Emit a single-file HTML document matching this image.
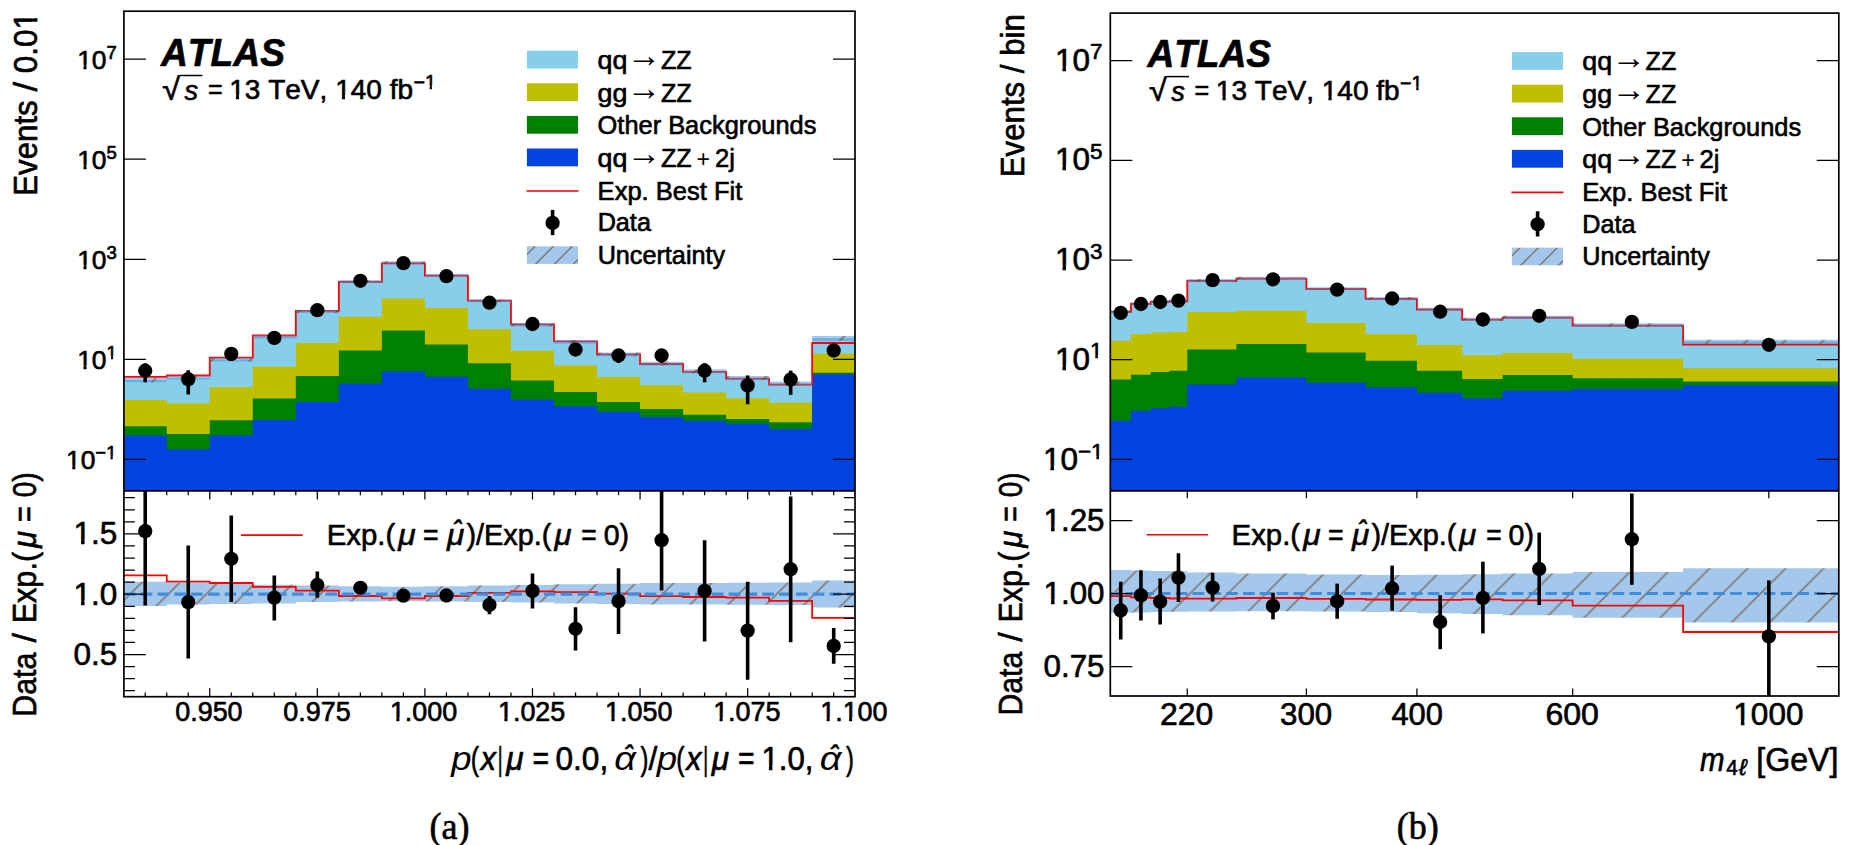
<!DOCTYPE html>
<html lang="en"><head><meta charset="utf-8"><title>ATLAS ZZ distributions</title>
<style>html,body{margin:0;padding:0;background:#fff}svg{display:block}text{font-family:"Liberation Sans", sans-serif;fill:#000;stroke:#000;stroke-width:0.65px;stroke-linejoin:round;font-kerning:none}</style>
</head><body>
<svg width="1850" height="845" viewBox="0 0 1850 845">
<rect width="1850" height="845" fill="#fff"/>
<clipPath id="c1" clipPathUnits="objectBoundingBox"><rect x="-0.5" y="0" width="2" height="0.675"/><rect x="0.43" y="0" width="0.203" height="1"/></clipPath>
<clipPath id="cmL"><rect x="123.9" y="11.2" width="731.1" height="479.7"/></clipPath>
<clipPath id="crL"><rect x="123.9" y="490.9" width="731.1" height="205.8"/></clipPath>
<pattern id="hL" patternUnits="userSpaceOnUse" x="1.7" y="0" width="38.03" height="38.03"><path d="M-1,39.03L39.03,-1M-39.03,39.03L1,-1M37.03,39.03L77.06,-1" stroke="#5b2d00" stroke-width="1.6" stroke-opacity="0.5" fill="none"/></pattern>
<g clip-path="url(#cmL)">
<polygon points="123.7,490.9 123.7,380.1 166.73,380.1 166.73,377.65 209.76,377.65 209.76,359.6 252.79,359.6 252.79,336.8 295.82,336.8 295.82,311.6 338.85,311.6 338.85,281.5 381.88,281.5 381.88,262.6 424.91,262.6 424.91,275.2 467.94,275.2 467.94,300.9 510.97,300.9 510.97,324.9 554,324.9 554,341.7 597.03,341.7 597.03,354.4 640.06,354.4 640.06,363.65 683.09,363.65 683.09,371.3 726.12,371.3 726.12,378 769.15,378 769.15,383.5 812.18,383.5 812.18,338.25 855.21,338.25 855.21,490.9" fill="#87CEEB"/>
<polygon points="123.7,490.9 123.7,400 166.73,400 166.73,403.6 209.76,403.6 209.76,387.3 252.79,387.3 252.79,366.8 295.82,366.8 295.82,342.9 338.85,342.9 338.85,316.7 381.88,316.7 381.88,298.6 424.91,298.6 424.91,307.9 467.94,307.9 467.94,329.3 510.97,329.3 510.97,350.8 554,350.8 554,365.6 597.03,365.6 597.03,377 640.06,377 640.06,385.2 683.09,385.2 683.09,392.4 726.12,392.4 726.12,398.2 769.15,398.2 769.15,402.7 812.18,402.7 812.18,353.8 855.21,353.8 855.21,490.9" fill="#BFBF00"/>
<polygon points="123.7,490.9 123.7,426.2 166.73,426.2 166.73,434.1 209.76,434.1 209.76,420.2 252.79,420.2 252.79,398.5 295.82,398.5 295.82,376.1 338.85,376.1 338.85,350.5 381.88,350.5 381.88,330.6 424.91,330.6 424.91,344.4 467.94,344.4 467.94,363.2 510.97,363.2 510.97,380.4 554,380.4 554,392.1 597.03,392.1 597.03,402.1 640.06,402.1 640.06,409 683.09,409 683.09,414.8 726.12,414.8 726.12,419 769.15,419 769.15,422.3 812.18,422.3 812.18,372.8 855.21,372.8 855.21,490.9" fill="#008000"/>
<polygon points="123.7,490.9 123.7,435.6 166.73,435.6 166.73,449.2 209.76,449.2 209.76,435.6 252.79,435.6 252.79,419.9 295.82,419.9 295.82,402.1 338.85,402.1 338.85,383.4 381.88,383.4 381.88,371.6 424.91,371.6 424.91,376.7 467.94,376.7 467.94,388.8 510.97,388.8 510.97,399.4 554,399.4 554,406.3 597.03,406.3 597.03,411.7 640.06,411.7 640.06,416.9 683.09,416.9 683.09,420.8 726.12,420.8 726.12,423.8 769.15,423.8 769.15,429 812.18,429 812.18,374.3 855.21,374.3 855.21,490.9" fill="#0343DF"/>
<polyline points="123.7,376.95 166.73,376.95 166.73,375.51 209.76,375.51 209.76,357.67 252.79,357.67 252.79,335.51 295.82,335.51 295.82,310.96 338.85,310.96 338.85,281.83 381.88,281.83 381.88,263.35 424.91,263.35 424.91,275.53 467.94,275.53 467.94,300.67 510.97,300.67 510.97,324.4 554,324.4 554,341.34 597.03,341.34 597.03,354.31 640.06,354.31 640.06,364.01 683.09,364.01 683.09,371.81 726.12,371.81 726.12,378.64 769.15,378.64 769.15,384.72 812.18,384.72 812.18,343 855.21,343" fill="none" stroke="#FF0000" stroke-width="1.8" stroke-linejoin="miter"/>
<path d="M123.7,377.96H166.73V382.32H123.7ZM166.73,375.72H209.76V379.61H166.73ZM209.76,357.8H252.79V361.46H209.76ZM252.79,335.17H295.82V338.52H252.79ZM295.82,310.09H338.85V313.07H295.82ZM338.85,280.12H381.88V282.88H338.85ZM381.88,261.31H424.91V263.92H381.88ZM424.91,273.82H467.94V276.58H424.91ZM467.94,299.39H510.97V302.37H467.94ZM510.97,323.3H554V326.47H510.97ZM554,339.99H597.03V343.42H554ZM597.03,352.6H640.06V356.22H597.03ZM640.06,361.72H683.09V365.61H640.06ZM683.09,369.37H726.12V373.26H683.09ZM726.12,376.04H769.15V380H726.12ZM769.15,381.47H812.18V385.56H769.15ZM812.18,335.91H855.21V340.79H812.18Z" fill="#4A90D9" fill-opacity="0.5"/>
<path d="M123.7,377.96H166.73V382.32H123.7ZM166.73,375.72H209.76V379.61H166.73ZM209.76,357.8H252.79V361.46H209.76ZM252.79,335.17H295.82V338.52H252.79ZM295.82,310.09H338.85V313.07H295.82ZM338.85,280.12H381.88V282.88H338.85ZM381.88,261.31H424.91V263.92H381.88ZM424.91,273.82H467.94V276.58H424.91ZM467.94,299.39H510.97V302.37H467.94ZM510.97,323.3H554V326.47H510.97ZM554,339.99H597.03V343.42H554ZM597.03,352.6H640.06V356.22H597.03ZM640.06,361.72H683.09V365.61H640.06ZM683.09,369.37H726.12V373.26H683.09ZM726.12,376.04H769.15V380H726.12ZM769.15,381.47H812.18V385.56H769.15ZM812.18,335.91H855.21V340.79H812.18Z" fill="url(#hL)"/>
<line x1="145.22" x2="145.22" y1="363.18" y2="382.31" stroke="#000" stroke-width="3.6"/>
<circle cx="145.22" cy="370.7" r="7.15" fill="#000"/>
<line x1="188.25" x2="188.25" y1="370.34" y2="394.4" stroke="#000" stroke-width="3.6"/>
<circle cx="188.25" cy="379.2" r="7.15" fill="#000"/>
<line x1="231.28" x2="231.28" y1="348.47" y2="361.01" stroke="#000" stroke-width="3.6"/>
<circle cx="231.28" cy="353.85" r="7.15" fill="#000"/>
<line x1="274.31" x2="274.31" y1="334.04" y2="342.6" stroke="#000" stroke-width="3.6"/>
<circle cx="274.31" cy="337.9" r="7.15" fill="#000"/>
<line x1="317.33" x2="317.33" y1="308.08" y2="312.56" stroke="#000" stroke-width="3.6"/>
<circle cx="317.33" cy="310.2" r="7.15" fill="#000"/>
<line x1="360.37" x2="360.37" y1="279.69" y2="281.97" stroke="#000" stroke-width="3.6"/>
<circle cx="360.37" cy="280.8" r="7.15" fill="#000"/>
<line x1="403.39" x2="403.39" y1="262.36" y2="263.87" stroke="#000" stroke-width="3.6"/>
<circle cx="403.39" cy="263.1" r="7.15" fill="#000"/>
<line x1="446.43" x2="446.43" y1="275.11" y2="277.14" stroke="#000" stroke-width="3.6"/>
<circle cx="446.43" cy="276.1" r="7.15" fill="#000"/>
<line x1="489.45" x2="489.45" y1="300.9" y2="304.66" stroke="#000" stroke-width="3.6"/>
<circle cx="489.45" cy="302.7" r="7.15" fill="#000"/>
<line x1="532.49" x2="532.49" y1="321.13" y2="327.31" stroke="#000" stroke-width="3.6"/>
<circle cx="532.49" cy="324" r="7.15" fill="#000"/>
<line x1="575.51" x2="575.51" y1="344.58" y2="355.87" stroke="#000" stroke-width="3.6"/>
<circle cx="575.51" cy="349.5" r="7.15" fill="#000"/>
<line x1="618.55" x2="618.55" y1="349.94" y2="362.99" stroke="#000" stroke-width="3.6"/>
<circle cx="618.55" cy="355.5" r="7.15" fill="#000"/>
<line x1="661.58" x2="661.58" y1="349.94" y2="362.99" stroke="#000" stroke-width="3.6"/>
<circle cx="661.58" cy="355.5" r="7.15" fill="#000"/>
<line x1="704.61" x2="704.61" y1="363.18" y2="382.31" stroke="#000" stroke-width="3.6"/>
<circle cx="704.61" cy="370.7" r="7.15" fill="#000"/>
<line x1="747.64" x2="747.64" y1="375.46" y2="404.28" stroke="#000" stroke-width="3.6"/>
<circle cx="747.64" cy="385.4" r="7.15" fill="#000"/>
<line x1="790.67" x2="790.67" y1="370.59" y2="394.86" stroke="#000" stroke-width="3.6"/>
<circle cx="790.67" cy="379.5" r="7.15" fill="#000"/>
<line x1="833.7" x2="833.7" y1="345.48" y2="357.04" stroke="#000" stroke-width="3.6"/>
<circle cx="833.7" cy="350.5" r="7.15" fill="#000"/>
</g>
<g clip-path="url(#crL)">
<path d="M123.7,581.7H166.73V605.9H123.7ZM166.73,583H209.76V604.6H166.73ZM209.76,583.8H252.79V604.1H209.76ZM252.79,584.8H295.82V603.4H252.79ZM295.82,585.5H338.85V602.1H295.82ZM338.85,586.3H381.88V601.6H338.85ZM381.88,586.8H424.91V601.3H381.88ZM424.91,586.3H467.94V601.6H424.91ZM467.94,585.5H510.97V602.1H467.94ZM510.97,585H554V602.6H510.97ZM554,584.3H597.03V603.4H554ZM597.03,583.8H640.06V603.9H597.03ZM640.06,583H683.09V604.6H640.06ZM683.09,583H726.12V604.6H683.09ZM726.12,582.8H769.15V604.8H726.12ZM769.15,582.4H812.18V605.1H769.15ZM812.18,580.5H855.21V607.5H812.18Z" fill="#4A90D9" fill-opacity="0.5"/>
<path d="M123.7,581.7H166.73V605.9H123.7ZM166.73,583H209.76V604.6H166.73ZM209.76,583.8H252.79V604.1H209.76ZM252.79,584.8H295.82V603.4H252.79ZM295.82,585.5H338.85V602.1H295.82ZM338.85,586.3H381.88V601.6H338.85ZM381.88,586.8H424.91V601.3H381.88ZM424.91,586.3H467.94V601.6H424.91ZM467.94,585.5H510.97V602.1H467.94ZM510.97,585H554V602.6H510.97ZM554,584.3H597.03V603.4H554ZM597.03,583.8H640.06V603.9H597.03ZM640.06,583H683.09V604.6H640.06ZM683.09,583H726.12V604.6H683.09ZM726.12,582.8H769.15V604.8H726.12ZM769.15,582.4H812.18V605.1H769.15ZM812.18,580.5H855.21V607.5H812.18Z" fill="url(#hL)"/>
<polyline points="123.7,575.4 166.73,575.4 166.73,581.7 209.76,581.7 209.76,583 252.79,583 252.79,586.8 295.82,586.8 295.82,590.6 338.85,590.6 338.85,596 381.88,596 381.88,598.3 424.91,598.3 424.91,596 467.94,596 467.94,592.9 510.97,592.9 510.97,591.4 554,591.4 554,592.2 597.03,592.2 597.03,593.7 640.06,593.7 640.06,596.2 683.09,596.2 683.09,597 726.12,597 726.12,597.7 769.15,597.7 769.15,600.8 812.18,600.8 812.18,617.9 855.21,617.9" fill="none" stroke="#FF0000" stroke-width="1.8"/>
<line x1="123.9" x2="855" y1="594.1" y2="594.1" stroke="#3E8EDE" stroke-width="3.1" stroke-dasharray="11.6 5.2" stroke-dashoffset="0"/>
<line x1="145.22" x2="145.22" y1="480" y2="605.4" stroke="#000" stroke-width="3.6"/>
<circle cx="145.22" cy="531.1" r="7.15" fill="#000"/>
<line x1="188.25" x2="188.25" y1="545.6" y2="658.6" stroke="#000" stroke-width="3.6"/>
<circle cx="188.25" cy="602.1" r="7.15" fill="#000"/>
<line x1="231.28" x2="231.28" y1="515.5" y2="602.1" stroke="#000" stroke-width="3.6"/>
<circle cx="231.28" cy="558.8" r="7.15" fill="#000"/>
<line x1="274.31" x2="274.31" y1="575.4" y2="620.4" stroke="#000" stroke-width="3.6"/>
<circle cx="274.31" cy="597.7" r="7.15" fill="#000"/>
<line x1="317.33" x2="317.33" y1="571.5" y2="597.7" stroke="#000" stroke-width="3.6"/>
<circle cx="317.33" cy="585" r="7.15" fill="#000"/>
<line x1="360.37" x2="360.37" y1="581.5" y2="594" stroke="#000" stroke-width="3.6"/>
<circle cx="360.37" cy="587.8" r="7.15" fill="#000"/>
<circle cx="403.39" cy="595.7" r="7.15" fill="#000"/>
<circle cx="446.43" cy="595.5" r="7.15" fill="#000"/>
<line x1="489.45" x2="489.45" y1="596" y2="614.3" stroke="#000" stroke-width="3.6"/>
<circle cx="489.45" cy="604.9" r="7.15" fill="#000"/>
<line x1="532.49" x2="532.49" y1="573.6" y2="608.4" stroke="#000" stroke-width="3.6"/>
<circle cx="532.49" cy="590.9" r="7.15" fill="#000"/>
<line x1="575.51" x2="575.51" y1="607.2" y2="650.4" stroke="#000" stroke-width="3.6"/>
<circle cx="575.51" cy="628.8" r="7.15" fill="#000"/>
<line x1="618.55" x2="618.55" y1="568.2" y2="633.9" stroke="#000" stroke-width="3.6"/>
<circle cx="618.55" cy="601.1" r="7.15" fill="#000"/>
<line x1="661.58" x2="661.58" y1="480" y2="590.6" stroke="#000" stroke-width="3.6"/>
<circle cx="661.58" cy="540.2" r="7.15" fill="#000"/>
<line x1="704.61" x2="704.61" y1="540.2" y2="641.5" stroke="#000" stroke-width="3.6"/>
<circle cx="704.61" cy="590.9" r="7.15" fill="#000"/>
<line x1="747.64" x2="747.64" y1="581.7" y2="679.7" stroke="#000" stroke-width="3.6"/>
<circle cx="747.64" cy="630.6" r="7.15" fill="#000"/>
<line x1="790.67" x2="790.67" y1="496.5" y2="642.3" stroke="#000" stroke-width="3.6"/>
<circle cx="790.67" cy="569.2" r="7.15" fill="#000"/>
<line x1="833.7" x2="833.7" y1="628" y2="663.7" stroke="#000" stroke-width="3.6"/>
<circle cx="833.7" cy="645.9" r="7.15" fill="#000"/>
</g>
<path d="M123.9,59.2h22 M855,59.2h-22 M123.9,159.2h22 M855,159.2h-22 M123.9,259.3h22 M855,259.3h-22 M123.9,359.3h22 M855,359.3h-22 M123.9,459.4h22 M855,459.4h-22 M123.9,533.9h22 M855,533.9h-22 M123.9,594.2h22 M855,594.2h-22 M123.9,654.5h22 M855,654.5h-22 M123.9,690.68h11 M855,690.68h-11 M123.9,678.62h11 M855,678.62h-11 M123.9,666.56h11 M855,666.56h-11 M123.9,642.44h11 M855,642.44h-11 M123.9,630.38h11 M855,630.38h-11 M123.9,618.32h11 M855,618.32h-11 M123.9,606.26h11 M855,606.26h-11 M123.9,582.14h11 M855,582.14h-11 M123.9,570.08h11 M855,570.08h-11 M123.9,558.02h11 M855,558.02h-11 M123.9,545.96h11 M855,545.96h-11 M123.9,521.84h11 M855,521.84h-11 M123.9,509.78h11 M855,509.78h-11 M123.9,497.72h11 M855,497.72h-11 M209.76,696.7v-8.5 M209.76,490.9v8.5 M317.33,696.7v-8.5 M317.33,490.9v8.5 M424.91,696.7v-8.5 M424.91,490.9v8.5 M532.48,696.7v-8.5 M532.48,490.9v8.5 M640.06,696.7v-8.5 M640.06,490.9v8.5 M747.63,696.7v-8.5 M747.63,490.9v8.5 M145.22,696.7v-4.25 M145.22,490.9v4.25 M166.73,696.7v-4.25 M166.73,490.9v4.25 M188.25,696.7v-4.25 M188.25,490.9v4.25 M231.28,696.7v-4.25 M231.28,490.9v4.25 M252.79,696.7v-4.25 M252.79,490.9v4.25 M274.31,696.7v-4.25 M274.31,490.9v4.25 M295.82,696.7v-4.25 M295.82,490.9v4.25 M338.85,696.7v-4.25 M338.85,490.9v4.25 M360.37,696.7v-4.25 M360.37,490.9v4.25 M381.88,696.7v-4.25 M381.88,490.9v4.25 M403.4,696.7v-4.25 M403.4,490.9v4.25 M446.43,696.7v-4.25 M446.43,490.9v4.25 M467.94,696.7v-4.25 M467.94,490.9v4.25 M489.46,696.7v-4.25 M489.46,490.9v4.25 M510.97,696.7v-4.25 M510.97,490.9v4.25 M554,696.7v-4.25 M554,490.9v4.25 M575.52,696.7v-4.25 M575.52,490.9v4.25 M597.03,696.7v-4.25 M597.03,490.9v4.25 M618.55,696.7v-4.25 M618.55,490.9v4.25 M661.58,696.7v-4.25 M661.58,490.9v4.25 M683.09,696.7v-4.25 M683.09,490.9v4.25 M704.6,696.7v-4.25 M704.6,490.9v4.25 M726.12,696.7v-4.25 M726.12,490.9v4.25 M769.15,696.7v-4.25 M769.15,490.9v4.25 M790.66,696.7v-4.25 M790.66,490.9v4.25 M812.18,696.7v-4.25 M812.18,490.9v4.25 M833.69,696.7v-4.25 M833.69,490.9v4.25" stroke="#000" stroke-width="1.25" fill="none"/>
<rect x="123.9" y="11.2" width="731.1" height="685.5" fill="none" stroke="#000" stroke-width="1.7"/>
<line x1="123.9" x2="855" y1="490.9" y2="490.9" stroke="#000" stroke-width="1.7"/>
<clipPath id="cmR"><rect x="1110.3" y="13.1" width="728.5" height="477.7"/></clipPath>
<clipPath id="crR"><rect x="1110.3" y="490.8" width="728.5" height="205.2"/></clipPath>
<pattern id="hR" patternUnits="userSpaceOnUse" x="33.6" y="0" width="38.04" height="38.04"><path d="M-1,39.04L39.04,-1M-39.04,39.04L1,-1M37.04,39.04L77.08,-1" stroke="#5b2d00" stroke-width="1.6" stroke-opacity="0.5" fill="none"/></pattern>
<g clip-path="url(#cmR)">
<polygon points="1110.2,490.8 1110.2,311.6 1130.97,311.6 1130.97,303.7 1150.67,303.7 1150.67,301.65 1169.41,301.65 1169.41,300.85 1187.28,300.85 1187.28,280.55 1236.38,280.55 1236.38,278.25 1306.4,278.25 1306.4,288.6 1365.61,288.6 1365.61,298.35 1416.9,298.35 1416.9,309 1462.14,309 1462.14,319.2 1502.61,319.2 1502.61,317.1 1572.63,317.1 1572.63,324.8 1683.13,324.8 1683.13,341.5 1838.86,341.5 1838.86,490.8" fill="#87CEEB"/>
<polygon points="1110.2,490.8 1110.2,340.8 1130.97,340.8 1130.97,334 1150.67,334 1150.67,332.6 1169.41,332.6 1169.41,332.1 1187.28,332.1 1187.28,312 1236.38,312 1236.38,310.8 1306.4,310.8 1306.4,323.1 1365.61,323.1 1365.61,334 1416.9,334 1416.9,345.1 1462.14,345.1 1462.14,355.3 1502.61,355.3 1502.61,353.1 1572.63,353.1 1572.63,358.8 1683.13,358.8 1683.13,368.3 1838.86,368.3 1838.86,490.8" fill="#BFBF00"/>
<polygon points="1110.2,490.8 1110.2,379.6 1130.97,379.6 1130.97,374.7 1150.67,374.7 1150.67,372.1 1169.41,372.1 1169.41,370.7 1187.28,370.7 1187.28,349.4 1236.38,349.4 1236.38,343.9 1306.4,343.9 1306.4,352.4 1365.61,352.4 1365.61,360.7 1416.9,360.7 1416.9,370.7 1462.14,370.7 1462.14,378.9 1502.61,378.9 1502.61,374.9 1572.63,374.9 1572.63,378.2 1683.13,378.2 1683.13,381.6 1838.86,381.6 1838.86,490.8" fill="#008000"/>
<polygon points="1110.2,490.8 1110.2,420.8 1130.97,420.8 1130.97,410.9 1150.67,410.9 1150.67,408 1169.41,408 1169.41,406.8 1187.28,406.8 1187.28,384.4 1236.38,384.4 1236.38,377.5 1306.4,377.5 1306.4,382.7 1365.61,382.7 1365.61,387.4 1416.9,387.4 1416.9,392.7 1462.14,392.7 1462.14,398.3 1502.61,398.3 1502.61,390.8 1572.63,390.8 1572.63,388.9 1683.13,388.9 1683.13,385.2 1838.86,385.2 1838.86,490.8" fill="#0343DF"/>
<polyline points="1110.2,311.8 1130.97,311.8 1130.97,303.99 1150.67,303.99 1150.67,301.99 1169.41,301.99 1169.41,301.23 1187.28,301.23 1187.28,280.94 1236.38,280.94 1236.38,278.59 1306.4,278.59 1306.4,289 1365.61,289 1365.61,298.8 1416.9,298.8 1416.9,309.48 1462.14,309.48 1462.14,319.64 1502.61,319.64 1502.61,317.62 1572.63,317.62 1572.63,325.72 1683.13,325.72 1683.13,344.57 1838.86,344.57" fill="none" stroke="#FF0000" stroke-width="1.8" stroke-linejoin="miter"/>
<path d="M1110.2,309.93H1130.97V313.08H1110.2ZM1130.97,302.06H1150.67V305.16H1130.97ZM1150.67,300.04H1169.41V303.08H1150.67ZM1169.41,299.26H1187.28V302.26H1169.41ZM1187.28,279.05H1236.38V281.93H1187.28ZM1236.38,276.83H1306.4V279.61H1236.38ZM1306.4,287.24H1365.61V289.97H1306.4ZM1365.61,297.02H1416.9V299.78H1365.61ZM1416.9,307.65H1462.14V310.52H1416.9ZM1462.14,317.82H1502.61V320.77H1462.14ZM1502.61,315.66H1572.63V318.78H1502.61ZM1572.63,323.26H1683.13V326.68H1572.63ZM1683.13,339.7H1838.86V343.78H1683.13Z" fill="#4A90D9" fill-opacity="0.5"/>
<path d="M1110.2,309.93H1130.97V313.08H1110.2ZM1130.97,302.06H1150.67V305.16H1130.97ZM1150.67,300.04H1169.41V303.08H1150.67ZM1169.41,299.26H1187.28V302.26H1169.41ZM1187.28,279.05H1236.38V281.93H1187.28ZM1236.38,276.83H1306.4V279.61H1236.38ZM1306.4,287.24H1365.61V289.97H1306.4ZM1365.61,297.02H1416.9V299.78H1365.61ZM1416.9,307.65H1462.14V310.52H1416.9ZM1462.14,317.82H1502.61V320.77H1462.14ZM1502.61,315.66H1572.63V318.78H1502.61ZM1572.63,323.26H1683.13V326.68H1572.63ZM1683.13,339.7H1838.86V343.78H1683.13Z" fill="url(#hR)"/>
<line x1="1120.72" x2="1120.72" y1="310.69" y2="315.36" stroke="#000" stroke-width="3.6"/>
<circle cx="1120.72" cy="312.9" r="7.15" fill="#000"/>
<line x1="1140.94" x2="1140.94" y1="302.19" y2="305.98" stroke="#000" stroke-width="3.6"/>
<circle cx="1140.94" cy="304" r="7.15" fill="#000"/>
<line x1="1160.15" x2="1160.15" y1="300.27" y2="303.89" stroke="#000" stroke-width="3.6"/>
<circle cx="1160.15" cy="302" r="7.15" fill="#000"/>
<line x1="1178.45" x2="1178.45" y1="298.92" y2="302.42" stroke="#000" stroke-width="3.6"/>
<circle cx="1178.45" cy="300.6" r="7.15" fill="#000"/>
<line x1="1212.61" x2="1212.61" y1="279.04" y2="281.22" stroke="#000" stroke-width="3.6"/>
<circle cx="1212.61" cy="280.1" r="7.15" fill="#000"/>
<line x1="1272.98" x2="1272.98" y1="278.26" y2="280.4" stroke="#000" stroke-width="3.6"/>
<circle cx="1272.98" cy="279.3" r="7.15" fill="#000"/>
<line x1="1337.15" x2="1337.15" y1="288.28" y2="291" stroke="#000" stroke-width="3.6"/>
<circle cx="1337.15" cy="289.6" r="7.15" fill="#000"/>
<line x1="1392.11" x2="1392.11" y1="296.9" y2="300.23" stroke="#000" stroke-width="3.6"/>
<circle cx="1392.11" cy="298.5" r="7.15" fill="#000"/>
<line x1="1440.18" x2="1440.18" y1="309.55" y2="314.09" stroke="#000" stroke-width="3.6"/>
<circle cx="1440.18" cy="311.7" r="7.15" fill="#000"/>
<line x1="1482.9" x2="1482.9" y1="316.95" y2="322.39" stroke="#000" stroke-width="3.6"/>
<circle cx="1482.9" cy="319.5" r="7.15" fill="#000"/>
<line x1="1539.21" x2="1539.21" y1="313.45" y2="318.44" stroke="#000" stroke-width="3.6"/>
<circle cx="1539.21" cy="315.8" r="7.15" fill="#000"/>
<line x1="1631.84" x2="1631.84" y1="319.22" y2="324.97" stroke="#000" stroke-width="3.6"/>
<circle cx="1631.84" cy="321.9" r="7.15" fill="#000"/>
<line x1="1768.84" x2="1768.84" y1="340.42" y2="350.29" stroke="#000" stroke-width="3.6"/>
<circle cx="1768.84" cy="344.8" r="7.15" fill="#000"/>
</g>
<g clip-path="url(#crR)">
<path d="M1110.2,570.1H1130.97V612.8H1110.2ZM1130.97,570.5H1150.67V612.5H1130.97ZM1150.67,570.9H1169.41V612.1H1150.67ZM1169.41,571.2H1187.28V611.8H1169.41ZM1187.28,572.5H1236.38V611.5H1187.28ZM1236.38,573.6H1306.4V611.2H1236.38ZM1306.4,574.5H1365.61V611.4H1306.4ZM1365.61,575H1416.9V612.1H1365.61ZM1416.9,574.7H1462.14V613.2H1416.9ZM1462.14,574.2H1502.61V613.9H1462.14ZM1502.61,573.4H1572.63V615.3H1502.61ZM1572.63,572H1683.13V617.7H1572.63ZM1683.13,568.2H1838.86V622.6H1683.13Z" fill="#4A90D9" fill-opacity="0.5"/>
<path d="M1110.2,570.1H1130.97V612.8H1110.2ZM1130.97,570.5H1150.67V612.5H1130.97ZM1150.67,570.9H1169.41V612.1H1150.67ZM1169.41,571.2H1187.28V611.8H1169.41ZM1187.28,572.5H1236.38V611.5H1187.28ZM1236.38,573.6H1306.4V611.2H1236.38ZM1306.4,574.5H1365.61V611.4H1306.4ZM1365.61,575H1416.9V612.1H1365.61ZM1416.9,574.7H1462.14V613.2H1416.9ZM1462.14,574.2H1502.61V613.9H1462.14ZM1502.61,573.4H1572.63V615.3H1502.61ZM1572.63,572H1683.13V617.7H1572.63ZM1683.13,568.2H1838.86V622.6H1683.13Z" fill="url(#hR)"/>
<polyline points="1110.2,596.1 1130.97,596.1 1130.97,597.4 1150.67,597.4 1150.67,598 1169.41,598 1169.41,598.5 1187.28,598.5 1187.28,598.6 1236.38,598.6 1236.38,598 1306.4,598 1306.4,598.8 1365.61,598.8 1365.61,599.5 1416.9,599.5 1416.9,599.9 1462.14,599.9 1462.14,599.3 1502.61,599.3 1502.61,600.4 1572.63,600.4 1572.63,605.6 1683.13,605.6 1683.13,632 1838.86,632" fill="none" stroke="#FF0000" stroke-width="1.8"/>
<line x1="1110.3" x2="1838.8" y1="593.45" y2="593.45" stroke="#3E8EDE" stroke-width="3.1" stroke-dasharray="11.6 5.2" stroke-dashoffset="1.7"/>
<line x1="1120.72" x2="1120.72" y1="581.7" y2="639.5" stroke="#000" stroke-width="3.6"/>
<circle cx="1120.72" cy="610.5" r="7.15" fill="#000"/>
<line x1="1140.94" x2="1140.94" y1="570.3" y2="620.4" stroke="#000" stroke-width="3.6"/>
<circle cx="1140.94" cy="595.2" r="7.15" fill="#000"/>
<line x1="1160.15" x2="1160.15" y1="578.4" y2="624.5" stroke="#000" stroke-width="3.6"/>
<circle cx="1160.15" cy="601.6" r="7.15" fill="#000"/>
<line x1="1178.45" x2="1178.45" y1="553.2" y2="602.1" stroke="#000" stroke-width="3.6"/>
<circle cx="1178.45" cy="577.6" r="7.15" fill="#000"/>
<line x1="1212.61" x2="1212.61" y1="572.8" y2="601.6" stroke="#000" stroke-width="3.6"/>
<circle cx="1212.61" cy="587.6" r="7.15" fill="#000"/>
<line x1="1272.98" x2="1272.98" y1="592.7" y2="619.4" stroke="#000" stroke-width="3.6"/>
<circle cx="1272.98" cy="605.9" r="7.15" fill="#000"/>
<line x1="1337.15" x2="1337.15" y1="583.6" y2="618.8" stroke="#000" stroke-width="3.6"/>
<circle cx="1337.15" cy="601.3" r="7.15" fill="#000"/>
<line x1="1392.11" x2="1392.11" y1="565.6" y2="610.7" stroke="#000" stroke-width="3.6"/>
<circle cx="1392.11" cy="588.5" r="7.15" fill="#000"/>
<line x1="1440.18" x2="1440.18" y1="595.2" y2="649.2" stroke="#000" stroke-width="3.6"/>
<circle cx="1440.18" cy="622" r="7.15" fill="#000"/>
<line x1="1482.9" x2="1482.9" y1="561.7" y2="633.4" stroke="#000" stroke-width="3.6"/>
<circle cx="1482.9" cy="598" r="7.15" fill="#000"/>
<line x1="1539.21" x2="1539.21" y1="532.6" y2="605" stroke="#000" stroke-width="3.6"/>
<circle cx="1539.21" cy="569" r="7.15" fill="#000"/>
<line x1="1631.84" x2="1631.84" y1="493.4" y2="584.8" stroke="#000" stroke-width="3.6"/>
<circle cx="1631.84" cy="539.2" r="7.15" fill="#000"/>
<line x1="1768.84" x2="1768.84" y1="580.4" y2="710" stroke="#000" stroke-width="3.6"/>
<circle cx="1768.84" cy="636.4" r="7.15" fill="#000"/>
</g>
<path d="M1110.3,60.65h22 M1838.8,60.65h-22 M1110.3,160.4h22 M1838.8,160.4h-22 M1110.3,260.2h22 M1838.8,260.2h-22 M1110.3,359.6h22 M1838.8,359.6h-22 M1110.3,459.4h22 M1838.8,459.4h-22 M1110.3,520.5h22 M1838.8,520.5h-22 M1110.3,593.6h22 M1838.8,593.6h-22 M1110.3,666.7h22 M1838.8,666.7h-22 M1187.28,696v-7.5 M1187.28,490.8v7.5 M1306.4,696v-7.5 M1306.4,490.8v7.5 M1416.9,696v-7.5 M1416.9,490.8v7.5 M1572.63,696v-7.5 M1572.63,490.8v7.5 M1768.84,696v-7.5 M1768.84,490.8v7.5" stroke="#000" stroke-width="1.25" fill="none"/>
<rect x="1110.3" y="13.1" width="728.5" height="682.9" fill="none" stroke="#000" stroke-width="1.7"/>
<line x1="1110.3" x2="1838.8" y1="490.8" y2="490.8" stroke="#000" stroke-width="1.7"/>
<rect x="526.9" y="50.7" width="51.1" height="17.8" fill="#87CEEB"/>
<rect x="526.9" y="83.3" width="51.1" height="17.8" fill="#BFBF00"/>
<rect x="526.9" y="115.9" width="51.1" height="17.8" fill="#008000"/>
<rect x="526.9" y="148.5" width="51.1" height="17.8" fill="#0343DF"/>
<line x1="526.4" x2="578.5" y1="191" y2="191" stroke="#FF0000" stroke-width="1.6"/>
<line x1="552.6" x2="552.6" y1="209.9" y2="235.1" stroke="#000" stroke-width="3.6"/>
<circle cx="552.6" cy="222.9" r="7.15" fill="#000"/>
<clipPath id="lg526"><rect x="526.9" y="246.3" width="51.1" height="17.6"/></clipPath>
<rect x="526.9" y="246.3" width="51.1" height="17.6" fill="#4A90D9" fill-opacity="0.5"/>
<g clip-path="url(#lg526)"><path d="M515.1,266.2l22,-22 M533.5,266.2l22,-22 M552.4,266.2l22,-22 M571.3,266.2l22,-22" stroke="#5b2d00" stroke-width="1.5" stroke-opacity="0.5"/></g>
<rect x="1511.9" y="52.1" width="51.1" height="17.8" fill="#87CEEB"/>
<rect x="1511.9" y="84.7" width="51.1" height="17.8" fill="#BFBF00"/>
<rect x="1511.9" y="117.3" width="51.1" height="17.8" fill="#008000"/>
<rect x="1511.9" y="149.9" width="51.1" height="17.8" fill="#0343DF"/>
<line x1="1511.4" x2="1563.5" y1="192.4" y2="192.4" stroke="#FF0000" stroke-width="1.6"/>
<line x1="1537.6" x2="1537.6" y1="211.3" y2="236.5" stroke="#000" stroke-width="3.6"/>
<circle cx="1537.6" cy="224.3" r="7.15" fill="#000"/>
<clipPath id="lg1511"><rect x="1511.9" y="247.7" width="51.1" height="17.6"/></clipPath>
<rect x="1511.9" y="247.7" width="51.1" height="17.6" fill="#4A90D9" fill-opacity="0.5"/>
<g clip-path="url(#lg1511)"><path d="M1500.1,267.6l22,-22 M1518.5,267.6l22,-22 M1537.4,267.6l22,-22 M1556.3,267.6l22,-22" stroke="#5b2d00" stroke-width="1.5" stroke-opacity="0.5"/></g>
<line x1="240.9" x2="302.7" y1="535.1" y2="535.1" stroke="#FF0000" stroke-width="1.6"/>
<line x1="1146.5" x2="1208.1" y1="534.8" y2="534.8" stroke="#FF0000" stroke-width="1.6"/>
<line x1="180.0" x2="202.4" y1="75.5" y2="75.5" stroke="#000" stroke-width="1.5"/>
<line x1="1166.6" x2="1189" y1="76.6" y2="76.6" stroke="#000" stroke-width="1.5"/>
<g transform="translate(77.20 68.60) scale(1.0000 1.0000)"><text x="0.00" y="0.00" font-size="26.4" clip-path="url(#c1)">1</text><text x="14.68" y="0.00" font-size="26.4">0</text><text x="29.36" y="-10.00" font-size="18.5">7</text></g>
<g transform="translate(77.20 168.60) scale(1.0000 1.0000)"><text x="0.00" y="0.00" font-size="26.4" clip-path="url(#c1)">1</text><text x="14.68" y="0.00" font-size="26.4">0</text><text x="29.36" y="-10.00" font-size="18.5">5</text></g>
<g transform="translate(77.20 268.70) scale(1.0000 1.0000)"><text x="0.00" y="0.00" font-size="26.4" clip-path="url(#c1)">1</text><text x="14.68" y="0.00" font-size="26.4">0</text><text x="29.36" y="-10.00" font-size="18.5">3</text></g>
<g transform="translate(77.20 368.70) scale(1.0000 1.0000)"><text x="0.00" y="0.00" font-size="26.4" clip-path="url(#c1)">1</text><text x="14.68" y="0.00" font-size="26.4">0</text><text x="29.36" y="-10.00" font-size="18.5" clip-path="url(#c1)">1</text></g>
<g transform="translate(66.00 469.00) scale(1.0000 1.0000)"><text x="0.00" y="0.00" font-size="26.4" clip-path="url(#c1)">1</text><text x="14.68" y="0.00" font-size="26.4">0</text><text x="29.36" y="-10.00" font-size="18.5">−</text><text x="40.17" y="-10.00" font-size="18.5" clip-path="url(#c1)">1</text></g>
<g transform="translate(73.46 544.20) scale(0.9850 1.0000)"><text x="0.00" y="0.00" font-size="32.0" clip-path="url(#c1)">1</text><text x="17.80" y="0.00" font-size="32.0">.5</text></g>
<g transform="translate(73.46 604.50) scale(0.9850 1.0000)"><text x="0.00" y="0.00" font-size="32.0" clip-path="url(#c1)">1</text><text x="17.80" y="0.00" font-size="32.0">.0</text></g>
<g transform="translate(73.46 664.80) scale(0.9850 1.0000)"><text font-size="32.0">0.5</text></g>
<g transform="translate(175.26 721.30) scale(1.0000 1.0000)"><text font-size="26.9">0.950</text></g>
<g transform="translate(283.33 721.30) scale(1.0000 1.0000)"><text font-size="26.9">0.975</text></g>
<g transform="translate(389.91 721.30) scale(1.0000 1.0000)"><text x="0.00" y="0.00" font-size="26.9" clip-path="url(#c1)">1</text><text x="14.96" y="0.00" font-size="26.9">.000</text></g>
<g transform="translate(497.98 721.30) scale(1.0000 1.0000)"><text x="0.00" y="0.00" font-size="26.9" clip-path="url(#c1)">1</text><text x="14.96" y="0.00" font-size="26.9">.025</text></g>
<g transform="translate(605.06 721.30) scale(1.0000 1.0000)"><text x="0.00" y="0.00" font-size="26.9" clip-path="url(#c1)">1</text><text x="14.96" y="0.00" font-size="26.9">.050</text></g>
<g transform="translate(713.13 721.30) scale(1.0000 1.0000)"><text x="0.00" y="0.00" font-size="26.9" clip-path="url(#c1)">1</text><text x="14.96" y="0.00" font-size="26.9">.075</text></g>
<g transform="translate(820.21 721.30) scale(1.0000 1.0000)"><text x="0.00" y="0.00" font-size="26.9" clip-path="url(#c1)">1</text><text x="14.96" y="0.00" font-size="26.9">.</text><text x="22.43" y="0.00" font-size="26.9" clip-path="url(#c1)">1</text><text x="37.39" y="0.00" font-size="26.9">00</text></g>
<g transform="translate(36.50 195.69) rotate(-90) scale(0.9459 1.0000)"><text font-size="33">Events</text></g>
<g transform="translate(36.50 91.40) rotate(-90) scale(1.0444 1.0000)"><text font-size="33">/</text></g>
<g transform="translate(36.50 73.15) rotate(-90) scale(0.9544 1.0000)"><text x="0.00" y="0.00" font-size="33">0.0</text><text x="45.87" y="0.00" font-size="33" clip-path="url(#c1)">1</text></g>
<g transform="translate(35.60 716.74) rotate(-90) scale(0.9206 1.0000)"><text font-size="33">Data</text></g>
<g transform="translate(35.60 642.60) rotate(-90) scale(1.0222 1.0000)"><text font-size="33">/</text></g>
<g transform="translate(35.60 623.36) rotate(-90) scale(0.9280 1.0000)"><text font-size="33">Exp.(</text></g>
<g transform="translate(35.60 547.87) rotate(-90) scale(0.9263 1.0000)"><text font-size="33" font-style="italic">μ</text></g>
<g transform="translate(35.60 522.02) rotate(-90) scale(0.8176 1.0000)"><text font-size="33">=</text></g>
<g transform="translate(35.60 497.35) rotate(-90) scale(0.8519 1.0000)"><text font-size="33">0)</text></g>
<g transform="translate(160.98 65.80) scale(0.9795 1.0000)"><text font-size="38" font-style="italic" font-weight="bold">ATLAS</text></g>
<g transform="translate(162.30 99.70) scale(1.1375 1.0870)"><text font-size="28.4">√</text></g>
<g transform="translate(184.60 99.60) scale(0.9571 1.0000)"><text font-size="28.4" font-style="italic">s</text></g>
<g transform="translate(208.01 99.20) scale(0.8867 1.0000)"><text font-size="28.4">=</text></g>
<g transform="translate(229.23 99.20) scale(0.9869 1.0000)"><text x="0.00" y="0.00" font-size="28.4" clip-path="url(#c1)">1</text><text x="15.79" y="0.00" font-size="28.4">3 TeV, </text><text x="107.35" y="0.00" font-size="28.4" clip-path="url(#c1)">1</text><text x="123.14" y="0.00" font-size="28.4">40 fb</text></g>
<g transform="translate(413.41 88.60) scale(0.9944 1.0000)"><text x="0.00" y="0.00" font-size="19.88">−</text><text x="11.61" y="0.00" font-size="19.88" clip-path="url(#c1)">1</text></g>
<g transform="translate(597.56 69.00) scale(1.0385 1.0000)"><text font-size="25.8">qq</text></g>
<g transform="translate(626.70 67.30) scale(0.9857 1.0000)"><text font-size="35" style='stroke:none;'>→</text></g>
<g transform="translate(660.90 69.00) scale(0.9742 1.0000)"><text font-size="25.8">ZZ</text></g>
<g transform="translate(597.56 101.60) scale(1.0385 1.0000)"><text font-size="25.8">gg</text></g>
<g transform="translate(626.70 99.90) scale(0.9857 1.0000)"><text font-size="35" style='stroke:none;'>→</text></g>
<g transform="translate(660.90 101.60) scale(0.9742 1.0000)"><text font-size="25.8">ZZ</text></g>
<g transform="translate(597.56 166.80) scale(1.0385 1.0000)"><text font-size="25.8">qq</text></g>
<g transform="translate(626.70 165.10) scale(0.9857 1.0000)"><text font-size="35" style='stroke:none;'>→</text></g>
<g transform="translate(660.90 166.80) scale(0.9742 1.0000)"><text font-size="25.8">ZZ</text></g>
<g transform="translate(696.43 167.20) scale(0.9667 1.0000)"><text font-size="23.9" style='stroke:none;'>+</text></g>
<g transform="translate(714.91 166.80) scale(0.9944 1.0000)"><text font-size="25.8">2j</text></g>
<g transform="translate(597.62 134.40) scale(0.9846 1.0000)"><text font-size="25.8">Other Backgrounds</text></g>
<g transform="translate(597.62 199.50) scale(0.9896 1.0000)"><text font-size="25.8">Exp. Best Fit</text></g>
<g transform="translate(597.65 231.40) scale(0.9774 1.0000)"><text font-size="25.8">Data</text></g>
<g transform="translate(597.65 263.50) scale(0.9767 1.0000)"><text font-size="25.8">Uncertainty</text></g>
<g transform="translate(326.72 544.60) scale(0.9659 1.0000)"><text font-size="30.4">Exp.(</text></g>
<g transform="translate(398.34 544.60) scale(1.0412 1.0000)"><text font-size="30.4" font-style="italic">μ</text></g>
<g transform="translate(423.02 544.60) scale(0.8750 1.0000)"><text font-size="30.4">=</text></g>
<g transform="translate(447.04 544.60) scale(1.0353 1.0000)"><text font-size="30.4" font-style="italic">μ</text></g>
<g transform="translate(452.85 543.60) scale(0.8500 1.1000)"><text font-size="30.4" font-style="italic">ˆ</text></g>
<g transform="translate(466.50 544.60) scale(0.9494 1.0000)"><text font-size="30.4">)/Exp.(</text></g>
<g transform="translate(554.42 544.60) scale(1.0176 1.0000)"><text font-size="30.4" font-style="italic">μ</text></g>
<g transform="translate(581.23 544.60) scale(0.8687 1.0000)"><text font-size="30.4">=</text></g>
<g transform="translate(603.66 544.60) scale(0.9360 1.0000)"><text font-size="30.4">0)</text></g>
<g transform="translate(451.22 770.30) scale(1.1222 1.0000)"><text font-size="32.6" font-style="italic" style='stroke:none;'>p</text></g>
<g transform="translate(470.77 770.30) scale(0.7667 1.0000)"><text font-size="32.6">(</text></g>
<g transform="translate(480.73 770.30) scale(0.9278 1.0000)"><text font-size="32.6" font-style="italic">x</text></g>
<g transform="translate(497.75 770.30) scale(0.5750 1.0000)"><text font-size="32.6">|</text></g>
<g transform="translate(506.37 770.30) scale(0.9684 1.0000)"><text font-size="32.6" font-style="italic">μ</text></g>
<g transform="translate(532.53 770.30) scale(0.8706 1.0000)"><text font-size="32.6">=</text></g>
<g transform="translate(555.53 770.30) scale(0.9686 1.0000)"><text font-size="32.6">0.0,</text></g>
<g transform="translate(614.23 770.30) scale(1.1667 1.0000)"><text font-size="32.6" font-style="italic" style='stroke:none;'>α</text></g>
<g transform="translate(624.09 768.20) scale(0.8091 0.9600)"><text font-size="32.6" font-style="italic">ˆ</text></g>
<g transform="translate(640.40 770.30) scale(0.7222 1.0000)"><text font-size="32.6">)</text></g>
<g transform="translate(656.72 770.30) scale(1.1222 1.0000)"><text font-size="32.6" font-style="italic" style='stroke:none;'>p</text></g>
<g transform="translate(676.27 770.30) scale(0.7667 1.0000)"><text font-size="32.6">(</text></g>
<g transform="translate(686.23 770.30) scale(0.9278 1.0000)"><text font-size="32.6" font-style="italic">x</text></g>
<g transform="translate(703.25 770.30) scale(0.5750 1.0000)"><text font-size="32.6">|</text></g>
<g transform="translate(711.87 770.30) scale(0.9684 1.0000)"><text font-size="32.6" font-style="italic">μ</text></g>
<g transform="translate(738.03 770.30) scale(0.8706 1.0000)"><text font-size="32.6">=</text></g>
<g transform="translate(761.43 770.30) scale(0.9571 1.0000)"><text x="0.00" y="0.00" font-size="32.6" clip-path="url(#c1)">1</text><text x="18.13" y="0.00" font-size="32.6">.0,</text></g>
<g transform="translate(819.73 770.30) scale(1.1667 1.0000)"><text font-size="32.6" font-style="italic" style='stroke:none;'>α</text></g>
<g transform="translate(829.59 768.20) scale(0.8091 0.9600)"><text font-size="32.6" font-style="italic">ˆ</text></g>
<g transform="translate(845.90 770.30) scale(0.7222 1.0000)"><text font-size="32.6">)</text></g>
<g transform="translate(648.60 770.30) scale(0.9778 1.0000)"><text font-size="32.6">/</text></g>
<g transform="translate(429.56 839.10) scale(0.9366 1.0000)"><text font-size="38.5" style='font-family:"Liberation Serif", serif;'>(a)</text></g>
<g transform="translate(1054.90 70.65) scale(1.0000 1.0000)"><text x="0.00" y="0.00" font-size="31.5" clip-path="url(#c1)">1</text><text x="17.52" y="0.00" font-size="31.5">0</text><text x="35.04" y="-11.40" font-size="22.5">7</text></g>
<g transform="translate(1054.90 170.30) scale(1.0000 1.0000)"><text x="0.00" y="0.00" font-size="31.5" clip-path="url(#c1)">1</text><text x="17.52" y="0.00" font-size="31.5">0</text><text x="35.04" y="-11.40" font-size="22.5">5</text></g>
<g transform="translate(1054.90 270.00) scale(1.0000 1.0000)"><text x="0.00" y="0.00" font-size="31.5" clip-path="url(#c1)">1</text><text x="17.52" y="0.00" font-size="31.5">0</text><text x="35.04" y="-11.40" font-size="22.5">3</text></g>
<g transform="translate(1054.90 369.70) scale(1.0000 1.0000)"><text x="0.00" y="0.00" font-size="31.5" clip-path="url(#c1)">1</text><text x="17.52" y="0.00" font-size="31.5">0</text><text x="35.04" y="-11.40" font-size="22.5" clip-path="url(#c1)">1</text></g>
<g transform="translate(1042.90 470.20) scale(1.0000 1.0000)"><text x="0.00" y="0.00" font-size="31.5" clip-path="url(#c1)">1</text><text x="17.52" y="0.00" font-size="31.5">0</text><text x="35.04" y="-11.40" font-size="22.5">−</text><text x="48.18" y="-11.40" font-size="22.5" clip-path="url(#c1)">1</text></g>
<g transform="translate(1043.52 530.60) scale(0.9800 1.0000)"><text x="0.00" y="0.00" font-size="32.0" clip-path="url(#c1)">1</text><text x="17.80" y="0.00" font-size="32.0">.25</text></g>
<g transform="translate(1043.52 603.70) scale(0.9800 1.0000)"><text x="0.00" y="0.00" font-size="32.0" clip-path="url(#c1)">1</text><text x="17.80" y="0.00" font-size="32.0">.00</text></g>
<g transform="translate(1043.52 676.80) scale(0.9800 1.0000)"><text font-size="32.0">0.75</text></g>
<g transform="translate(1160.10 725.00) scale(1.0039 1.0000)"><text font-size="31.8">220</text></g>
<g transform="translate(1280.02 725.00) scale(0.9843 1.0000)"><text font-size="31.8">300</text></g>
<g transform="translate(1391.40 725.00) scale(0.9712 1.0000)"><text font-size="31.8">400</text></g>
<g transform="translate(1545.39 725.00) scale(1.0078 1.0000)"><text font-size="31.8">600</text></g>
<g transform="translate(1733.33 725.00) scale(0.9910 1.0000)"><text x="0.00" y="0.00" font-size="31.8" clip-path="url(#c1)">1</text><text x="17.69" y="0.00" font-size="31.8">000</text></g>
<g transform="translate(1023.50 177.29) rotate(-90) scale(0.9467 1.0000)"><text font-size="33">Events / bin</text></g>
<g transform="translate(1022.20 715.52) rotate(-90) scale(0.9160 1.0000)"><text font-size="33">Data</text></g>
<g transform="translate(1022.20 641.75) rotate(-90) scale(1.0171 1.0000)"><text font-size="33">/</text></g>
<g transform="translate(1022.20 622.61) rotate(-90) scale(0.9234 1.0000)"><text font-size="33">Exp.(</text></g>
<g transform="translate(1022.20 547.50) rotate(-90) scale(0.9217 1.0000)"><text font-size="33" font-style="italic">μ</text></g>
<g transform="translate(1022.20 521.78) rotate(-90) scale(0.8136 1.0000)"><text font-size="33">=</text></g>
<g transform="translate(1022.20 497.23) rotate(-90) scale(0.8476 1.0000)"><text font-size="33">0)</text></g>
<g transform="translate(1147.38 67.40) scale(0.9772 1.0000)"><text font-size="38" font-style="italic" font-weight="bold">ATLAS</text></g>
<g transform="translate(1148.90 100.80) scale(1.1375 1.0870)"><text font-size="28.4">√</text></g>
<g transform="translate(1171.20 100.70) scale(0.9571 1.0000)"><text font-size="28.4" font-style="italic">s</text></g>
<g transform="translate(1194.61 100.30) scale(0.8867 1.0000)"><text font-size="28.4">=</text></g>
<g transform="translate(1215.83 100.30) scale(0.9869 1.0000)"><text x="0.00" y="0.00" font-size="28.4" clip-path="url(#c1)">1</text><text x="15.79" y="0.00" font-size="28.4">3 TeV, </text><text x="107.35" y="0.00" font-size="28.4" clip-path="url(#c1)">1</text><text x="123.14" y="0.00" font-size="28.4">40 fb</text></g>
<g transform="translate(1400.01 89.70) scale(0.9944 1.0000)"><text x="0.00" y="0.00" font-size="19.88">−</text><text x="11.61" y="0.00" font-size="19.88" clip-path="url(#c1)">1</text></g>
<g transform="translate(1582.26 70.25) scale(1.0385 1.0000)"><text font-size="25.8">qq</text></g>
<g transform="translate(1611.40 68.55) scale(0.9857 1.0000)"><text font-size="35" style='stroke:none;'>→</text></g>
<g transform="translate(1645.60 70.25) scale(0.9742 1.0000)"><text font-size="25.8">ZZ</text></g>
<g transform="translate(1582.26 102.85) scale(1.0385 1.0000)"><text font-size="25.8">gg</text></g>
<g transform="translate(1611.40 101.15) scale(0.9857 1.0000)"><text font-size="35" style='stroke:none;'>→</text></g>
<g transform="translate(1645.60 102.85) scale(0.9742 1.0000)"><text font-size="25.8">ZZ</text></g>
<g transform="translate(1582.26 168.05) scale(1.0385 1.0000)"><text font-size="25.8">qq</text></g>
<g transform="translate(1611.40 166.35) scale(0.9857 1.0000)"><text font-size="35" style='stroke:none;'>→</text></g>
<g transform="translate(1645.60 168.05) scale(0.9742 1.0000)"><text font-size="25.8">ZZ</text></g>
<g transform="translate(1681.13 168.45) scale(0.9667 1.0000)"><text font-size="23.9" style='stroke:none;'>+</text></g>
<g transform="translate(1699.61 168.05) scale(0.9944 1.0000)"><text font-size="25.8">2j</text></g>
<g transform="translate(1582.32 135.65) scale(0.9846 1.0000)"><text font-size="25.8">Other Backgrounds</text></g>
<g transform="translate(1582.32 200.75) scale(0.9896 1.0000)"><text font-size="25.8">Exp. Best Fit</text></g>
<g transform="translate(1582.35 232.65) scale(0.9774 1.0000)"><text font-size="25.8">Data</text></g>
<g transform="translate(1582.35 264.75) scale(0.9767 1.0000)"><text font-size="25.8">Uncertainty</text></g>
<g transform="translate(1231.62 544.60) scale(0.9659 1.0000)"><text font-size="30.4">Exp.(</text></g>
<g transform="translate(1303.24 544.60) scale(1.0412 1.0000)"><text font-size="30.4" font-style="italic">μ</text></g>
<g transform="translate(1327.92 544.60) scale(0.8750 1.0000)"><text font-size="30.4">=</text></g>
<g transform="translate(1351.94 544.60) scale(1.0353 1.0000)"><text font-size="30.4" font-style="italic">μ</text></g>
<g transform="translate(1357.75 543.60) scale(0.8500 1.1000)"><text font-size="30.4" font-style="italic">ˆ</text></g>
<g transform="translate(1371.40 544.60) scale(0.9494 1.0000)"><text font-size="30.4">)/Exp.(</text></g>
<g transform="translate(1459.32 544.60) scale(1.0176 1.0000)"><text font-size="30.4" font-style="italic">μ</text></g>
<g transform="translate(1486.13 544.60) scale(0.8688 1.0000)"><text font-size="30.4">=</text></g>
<g transform="translate(1508.56 544.60) scale(0.9360 1.0000)"><text font-size="30.4">0)</text></g>
<g transform="translate(1699.90 770.70) scale(0.9038 1.0000)"><text font-size="32.6" font-style="italic">m</text></g>
<g transform="translate(1726.20 775.30) scale(0.9167 1.0000)"><text font-size="22.8">4</text></g>
<g transform="translate(1739.00 775.30) scale(1.0222 1.0000)"><text font-size="22.8" font-style="italic">ℓ</text></g>
<g transform="translate(1756.33 770.70) scale(0.9861 1.0000)"><text font-size="32.6">[GeV]</text></g>
<g transform="translate(1396.87 838.80) scale(0.9349 1.0000)"><text font-size="38.5" style='font-family:"Liberation Serif", serif;'>(b)</text></g>
</svg></body></html>
